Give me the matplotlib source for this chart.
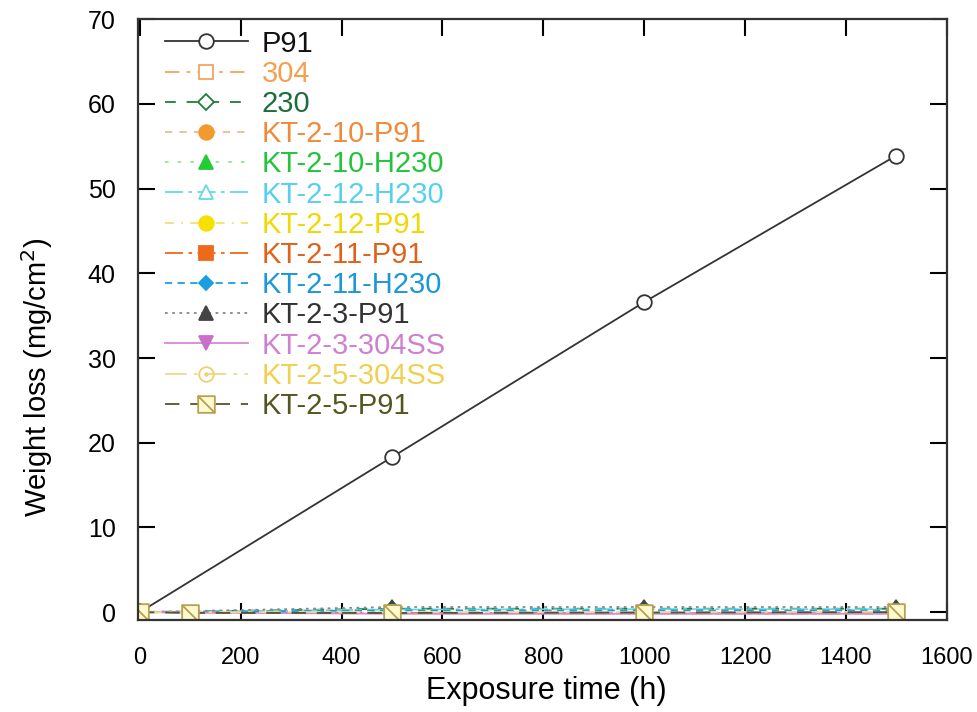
import matplotlib
matplotlib.use("Agg")
import matplotlib.pyplot as plt
from matplotlib.path import Path

plt.rcParams['font.family'] = ['Liberation Sans', 'DejaVu Sans']

# exposure times (h)
t_main = [0, 500, 1000, 1500]
t_kt5 = [0, 100, 500, 1000, 1500]

# weight loss (mg/cm^2)
p91 = [0.0, 18.3, 36.6, 53.9]
s304 = [0.0, -0.1, -0.1, -0.1]
s230 = [0.0, 0.4, 0.4, 0.4]
kt_2_10_p91 = [0.0, -0.1, -0.1, -0.1]
kt_2_10_h230 = [0.0, 0.3, 0.3, 0.3]
kt_2_12_h230 = [0.0, 0.3, 0.35, 0.35]
kt_2_12_p91 = [0.0, 0.0, -0.05, -0.05]
kt_2_11_p91 = [0.0, -0.1, -0.15, -0.15]
kt_2_11_h230 = [0.0, 0.2, 0.2, 0.2]
kt_2_3_p91 = [0.0, 0.6, 0.6, 0.6]
kt_2_3_304ss = [0.0, -0.2, -0.2, -0.2]
kt_2_5_304ss = [0.0, 0.0, 0.0, 0.05]
kt_2_5_p91 = [0.0, -0.1, -0.1, -0.05, 0.0]

x_ticks = [0, 200, 400, 600, 800, 1000, 1200, 1400, 1600]
y_ticks = [0, 10, 20, 30, 40, 50, 60, 70]

# square with a diagonal stroke
sq_slash = Path(
    [(-1, -1), (1, -1), (1, 1), (-1, 1), (-1, -1), (-1, 1), (1, -1)],
    [Path.MOVETO, Path.LINETO, Path.LINETO, Path.LINETO, Path.CLOSEPOLY,
     Path.MOVETO, Path.LINETO])
# circle with a centre dot
circ_dot = Path.make_compound_path(Path.unit_circle(), Path.circle((0, 0), 0.18))

series = [
    ("P91", t_main, p91, dict(color="#333333", ls="-", marker="o", mfc="white", mec="#333333"), "#111111"),
    ("304", t_main, s304, dict(color="#f4a460", ls=(0, (8, 4, 2, 4)), marker="s", mfc="white", mec="#f4a460"), "#f4a050"),
    ("230", t_main, s230, dict(color="#1e7d3c", ls=(0, (6, 6)), marker="D", mfc="white", mec="#1e7d3c", ms=8), "#1e6d3c"),
    ("KT-2-10-P91", t_main, kt_2_10_p91, dict(color="#f5b88a", ls=(0, (4, 4)), marker="o", mfc="#f39a2e", mec="#f39a2e"), "#f08a3a"),
    ("KT-2-10-H230", t_main, kt_2_10_h230, dict(color="#9ae0a0", ls=(0, (2, 5)), marker="^", mfc="#22cc33", mec="#22cc33"), "#22c43a"),
    ("KT-2-12-H230", t_main, kt_2_12_h230, dict(color="#66d8ee", ls=(0, (10, 3, 2, 3)), marker="^", mfc="white", mec="#66d8ee"), "#55d0ee"),
    ("KT-2-12-P91", t_main, kt_2_12_p91, dict(color="#f0e070", ls=(0, (5, 4, 1, 4)), marker="o", mfc="#f5e000", mec="#f5e000"), "#f0d800"),
    ("KT-2-11-P91", t_main, kt_2_11_p91, dict(color="#ee6a1a", ls=(0, (10, 3, 2, 3)), marker="s", mfc="#ee6a1a", mec="#ee6a1a"), "#e0621a"),
    ("KT-2-11-H230", t_main, kt_2_11_h230, dict(color="#1aa0dd", ls=(0, (4, 3)), marker="D", mfc="#1aa0dd", mec="#1aa0dd", ms=7), "#1a98d8"),
    ("KT-2-3-P91", t_main, kt_2_3_p91, dict(color="#888888", ls=(0, (1.5, 2.5)), marker="^", mfc="#444444", mec="#444444"), "#333333"),
    ("KT-2-3-304SS", t_main, kt_2_3_304ss, dict(color="#d888d8", ls="-", marker="v", mfc="#c870c8", mec="#c870c8"), "#d080d0"),
    ("KT-2-5-304SS", t_main, kt_2_5_304ss, dict(color="#f0d890", ls=(0, (12, 4, 2, 4)), marker=circ_dot, mfc="none", mec="#f0d070"), "#f0d050"),
    ("KT-2-5-P91", t_kt5, kt_2_5_p91, dict(color="#555530", ls=(0, (8, 6)), marker=sq_slash, mfc="#fffad0", mec="#b8a050", ms=12), "#555520"),
]

fig = plt.figure(figsize=(9.78, 7.12), dpi=100)
ax = fig.add_axes([0.141, 0.129, 0.827, 0.844])

handles = []
for label, xs, ys, style, tcol in series:
    kw = dict(lw=1.3, ms=10.5, mew=1.3)
    kw.update(style)
    h, = ax.plot(xs, ys, label=label, **kw)
    handles.append(h)

ax.set_xlim(-4, 1600)
ax.set_ylim(-0.95, 70)
ax.set_xticks(x_ticks)
ax.set_yticks(y_ticks)
ax.tick_params(direction="in", length=12, width=1.5, top=True, right=True)
ax.tick_params(axis="y", labelsize=18, pad=16)
ax.tick_params(axis="x", labelsize=17, pad=19)
for sp in ax.spines.values():
    sp.set_linewidth(1.6)
    sp.set_color("#333333")

ax.set_xlabel("Exposure time (h)", fontsize=22)
ax.xaxis.set_label_coords(0.505, -0.093)
ax.xaxis.label.set_va("top")
ax.set_ylabel("Weight loss (mg/cm$^2$)", fontsize=21)
ax.yaxis.set_label_coords(-0.103, 0.404)

leg = ax.legend(handles=handles, loc="upper left",
                bbox_to_anchor=(153 / 978, 1 - 18 / 712), bbox_transform=fig.transFigure,
                frameon=False, fontsize=21, handlelength=2.85, handletextpad=0.48,
                labelspacing=0.075, numpoints=1, borderaxespad=0, borderpad=0.4)
for txt, s in zip(leg.get_texts(), series):
    txt.set_color(s[4])

fig.savefig("out.png", dpi=100)
